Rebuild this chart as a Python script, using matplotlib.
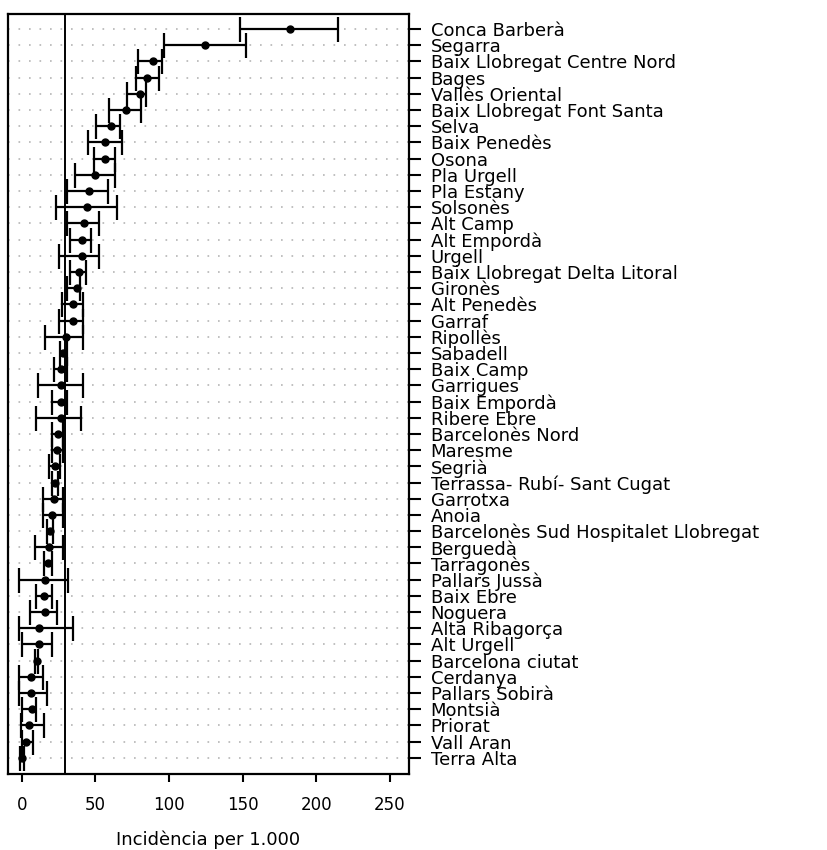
"""Incidence per 1,000 by health region (dot + CI plot), labels on the right."""
import matplotlib
matplotlib.use('Agg')
import matplotlib.pyplot as plt
import numpy as np

# ----------------------------------------------------------------------
# Data
# ----------------------------------------------------------------------
regions = [
    'Conca Barberà', 'Segarra', 'Baix Llobregat Centre Nord', 'Bages',
    'Vallès Oriental', 'Baix Llobregat Font Santa', 'Selva', 'Baix Penedès',
    'Osona', 'Pla Urgell', 'Pla Estany', 'Solsonès', 'Alt Camp',
    'Alt Empordà', 'Urgell', 'Baix Llobregat Delta Litoral', 'Gironès',
    'Alt Penedès', 'Garraf', 'Ripollès', 'Sabadell', 'Baix Camp',
    'Garrigues', 'Baix Empordà', 'Ribere Ebre', 'Barcelonès Nord',
    'Maresme', 'Segrià', 'Terrassa- Rubí- Sant Cugat', 'Garrotxa', 'Anoia',
    'Barcelonès Sud Hospitalet Llobregat', 'Berguedà', 'Tarragonès',
    'Pallars Jussà', 'Baix Ebre', 'Noguera', 'Alta Ribagorça', 'Alt Urgell',
    'Barcelona ciutat', 'Cerdanya', 'Pallars Sobirà', 'Montsià', 'Priorat',
    'Vall Aran', 'Terra Alta',
]
rate = [
    182.0, 124.7, 88.9, 85.2, 80.3, 71.0, 60.3, 56.7, 56.7, 49.9, 46.0,
    44.6, 42.6, 40.8, 40.8, 38.8, 37.6, 35.1, 35.1, 30.3, 28.3, 26.5,
    26.5, 26.5, 26.5, 24.9, 23.8, 22.7, 22.7, 22.2, 20.8, 19.3, 18.8,
    18.1, 15.9, 15.4, 15.9, 12.0, 12.0, 10.2, 6.3, 6.3, 6.8, 5.0, 2.9, 0.3,
]
lower = [
    148.5, 96.8, 78.9, 77.5, 71.8, 59.4, 50.3, 45.1, 49.0, 36.5, 30.6,
    23.5, 30.6, 32.7, 25.6, 32.7, 30.6, 27.6, 25.6, 16.1, 26.0, 21.8,
    10.9, 20.4, 9.5, 20.4, 20.4, 18.8, 20.4, 14.3, 14.3, 17.0, 9.0,
    15.4, -1.6, 9.5, 5.6, -1.6, 0.0, 9.2, -1.6, -1.6, 0.0, -0.7, 0.0, -1.5,
]
upper = [
    215.0, 152.6, 95.4, 93.4, 84.4, 81.0, 66.7, 68.4, 63.0, 63.0, 58.9,
    64.8, 52.6, 47.3, 52.6, 43.5, 39.9, 41.5, 41.5, 41.5, 30.6, 30.6,
    41.5, 30.6, 40.1, 28.3, 27.9, 26.0, 24.9, 28.3, 27.9, 21.5, 28.3,
    20.8, 31.3, 20.4, 24.2, 34.7, 20.8, 11.3, 14.7, 17.0, 9.5, 15.2, 7.9, 1.8,
]
overall_rate = 29.4
x_ticks = [0, 50, 100, 150, 200, 250]
x_label = 'Incidència per 1.000'

# ----------------------------------------------------------------------
# Figure
# ----------------------------------------------------------------------
fig = plt.figure(figsize=(8.28, 8.5), dpi=100)
ax = fig.add_axes([0.0097, 0.0894, 0.4843, 0.8941])

rate_a = np.array(rate)
ypos = np.arange(len(regions))
xerr = [rate_a - np.array(lower), np.array(upper) - rate_a]

ax.errorbar(rate_a, ypos, xerr=xerr, fmt='o', color='black', ms=5,
            elinewidth=1.6, capsize=9, capthick=1.6, zorder=3)
ax.axvline(overall_rate, color='black', lw=1.4, zorder=2)

ax.set_xlim(-9.3, 263)
ax.set_ylim(len(regions) - 1 + 1.0, -0.93)

# labels on the right, ticks outward
ax.set_yticks(ypos)
ax.set_yticklabels(regions, fontsize=13)
ax.yaxis.tick_right()
ax.tick_params(axis='y', direction='out', length=8.5, width=1.5, pad=7)
ax.set_xticks(x_ticks)
ax.tick_params(axis='x', direction='out', length=6, width=1.5, pad=10,
               labelsize=12)
ax.set_xlabel(x_label, fontsize=13, labelpad=12)

# dotted row guides
ax.grid(axis='y', color='#b5b5b5', linestyle=(0, (1, 5.3)), lw=1.2)
ax.set_axisbelow(True)

for sp in ax.spines.values():
    sp.set_linewidth(1.6)

fig.savefig('out.png', dpi=100)
